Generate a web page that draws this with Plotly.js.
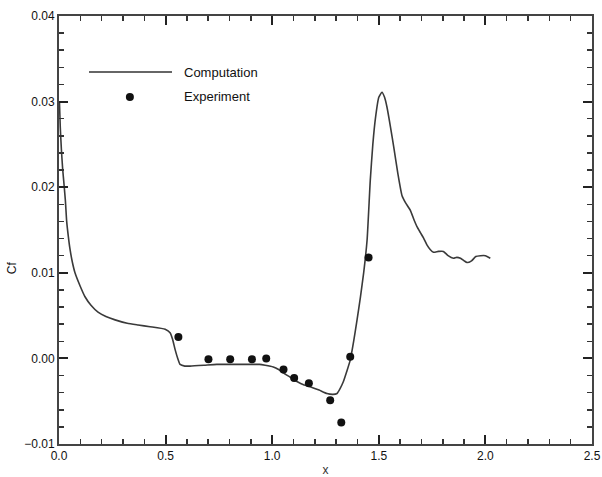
<!DOCTYPE html>
<html>
<head>
<meta charset="utf-8">
<script src="https://cdn.plot.ly/plotly-3.0.1.min.js"></script>
<style>html,body{margin:0;padding:0;background:#fff;}#chart{width:602px;height:477px;}</style>
</head>
<body>
<div id="chart"></div>
<script>
// Computation curve (x, Cf)
const compX = [0.002, 0.006, 0.011, 0.017, 0.024, 0.030, 0.036, 0.044, 0.052, 0.063, 0.075, 0.100, 0.122, 0.150, 0.183, 0.220, 0.263, 0.320, 0.371, 0.427, 0.498, 0.521, 0.533, 0.545, 0.557, 0.568, 0.590, 0.615, 0.680, 0.740, 0.820, 0.897, 0.940, 0.967, 1.005, 1.030, 1.052, 1.085, 1.116, 1.150, 1.178, 1.220, 1.257, 1.285, 1.304, 1.319, 1.334, 1.350, 1.366, 1.382, 1.398, 1.414, 1.429, 1.445, 1.460, 1.472, 1.484, 1.500, 1.515, 1.527, 1.538, 1.555, 1.570, 1.590, 1.609, 1.625, 1.648, 1.665, 1.679, 1.695, 1.709, 1.725, 1.742, 1.757, 1.780, 1.803, 1.825, 1.850, 1.866, 1.883, 1.900, 1.914, 1.935, 1.955, 1.977, 2.000, 2.023];
const compCf = [0.0300, 0.0270, 0.0245, 0.0222, 0.0202, 0.0184, 0.0160, 0.0142, 0.0127, 0.0112, 0.0100, 0.0084, 0.0072, 0.0062, 0.0054, 0.0049, 0.0045, 0.0041, 0.0039, 0.0037, 0.0034, 0.0030, 0.0022, 0.0010, 0.0000, -0.0007, -0.0009, -0.0009, -0.0008, -0.0007, -0.0007, -0.0007, -0.0007, -0.0008, -0.0010, -0.0013, -0.0017, -0.0022, -0.0027, -0.0031, -0.0033, -0.0037, -0.0041, -0.0042, -0.0041, -0.0035, -0.0027, -0.0015, -0.0002, 0.0020, 0.0045, 0.0072, 0.0100, 0.0138, 0.0208, 0.0250, 0.0280, 0.0305, 0.0311, 0.0305, 0.0294, 0.0270, 0.0247, 0.0215, 0.0190, 0.0182, 0.0173, 0.0162, 0.0154, 0.0147, 0.0141, 0.0133, 0.0127, 0.0124, 0.0125, 0.0125, 0.0120, 0.0117, 0.0118, 0.0117, 0.0114, 0.0112, 0.0114, 0.0119, 0.0120, 0.0120, 0.0117];

// Experiment points (x, Cf)
const expX = [0.560, 0.701, 0.803, 0.905, 0.972, 1.053, 1.103, 1.172, 1.272, 1.324, 1.366, 1.452];
const expCf = [0.0025, -0.0001, -0.0001, -0.0001, 0.0000, -0.0013, -0.0023, -0.0029, -0.0049, -0.0075, 0.0002, 0.0118];

// Axis ranges and tick steps
const xRange = [0, 2.5];
const yRange = [-0.01, 0.04];
const xMajor = 0.5, xMinor = 0.1;
const yMajor = 0.01, yMinor = 0.002;

const seriesNames = ["Computation", "Experiment"];
const axisTitles = {x: "x", y: "Cf"};

const fontFam = 'Arial, "Liberation Sans", Helvetica, sans-serif';
const axisCol = '#444';

const traces = [
  {x: compX, y: compCf, mode: 'lines', name: seriesNames[0],
   line: {color: '#3a3a3a', width: 1.6, shape: 'spline', smoothing: 0.5}, showlegend: false},
  {x: expX, y: expCf, mode: 'markers', name: seriesNames[1],
   marker: {color: '#111', size: 8}, showlegend: false}
];

const commonAxis = {
  showgrid: false, zeroline: false, showline: true, linecolor: axisCol, linewidth: 2,
  mirror: 'allticks', ticks: 'inside', ticklen: 9, tickwidth: 2, tickcolor: '#222',
  tickmode: 'linear',
  tickfont: {family: fontFam, size: 12, color: '#111'}
};

const layout = {
  width: 602, height: 477,
  margin: {l: 59, r: 10, t: 16, b: 33},
  paper_bgcolor: '#fff', plot_bgcolor: '#fff',
  showlegend: false,
  xaxis: Object.assign({}, commonAxis, {
    range: xRange, tick0: 0, dtick: xMajor, tickformat: '.1f',
    minor: {tick0: 0, dtick: xMinor, ticks: 'inside', ticklen: 5, tickcolor: '#333', tickwidth: 1.5, showgrid: false},
    title: {text: axisTitles.x, font: {family: fontFam, size: 12, color: '#333'}, standoff: 4}
  }),
  yaxis: Object.assign({}, commonAxis, {
    range: yRange, tick0: 0, dtick: yMajor, tickformat: '.2f',
    minor: {tick0: 0, dtick: yMinor, ticks: 'inside', ticklen: 5, tickcolor: '#333', tickwidth: 1.5, showgrid: false}
  }),
  shapes: [
    {type: 'line', xref: 'paper', yref: 'paper', x0: 0.0563, x1: 0.212, y0: 0.869, y1: 0.869,
     line: {color: '#333', width: 1.4}},
    {type: 'circle', xref: 'paper', yref: 'paper', xsizemode: 'pixel', ysizemode: 'pixel',
     xanchor: 0.133, yanchor: 0.811, x0: -4, x1: 4, y0: -4, y1: 4,
     fillcolor: '#111', line: {color: '#111', width: 0}}
  ],
  annotations: [
    {xref: 'paper', yref: 'paper', x: 0.231, y: 0.869, xanchor: 'left', yanchor: 'middle',
     text: seriesNames[0], showarrow: false, font: {family: fontFam, size: 13, color: '#111'}},
    {xref: 'paper', yref: 'paper', x: 0.231, y: 0.811, xanchor: 'left', yanchor: 'middle',
     text: seriesNames[1], showarrow: false, font: {family: fontFam, size: 13, color: '#111'}},
    {xref: 'paper', yref: 'paper', x: -0.088, y: 0.411, xanchor: 'center', yanchor: 'middle',
     text: axisTitles.y, textangle: -90, showarrow: false, font: {family: fontFam, size: 12, color: '#111'}}
  ]
};

Plotly.newPlot('chart', traces, layout, {staticPlot: true, displayModeBar: false});
</script>
</body>
</html>
